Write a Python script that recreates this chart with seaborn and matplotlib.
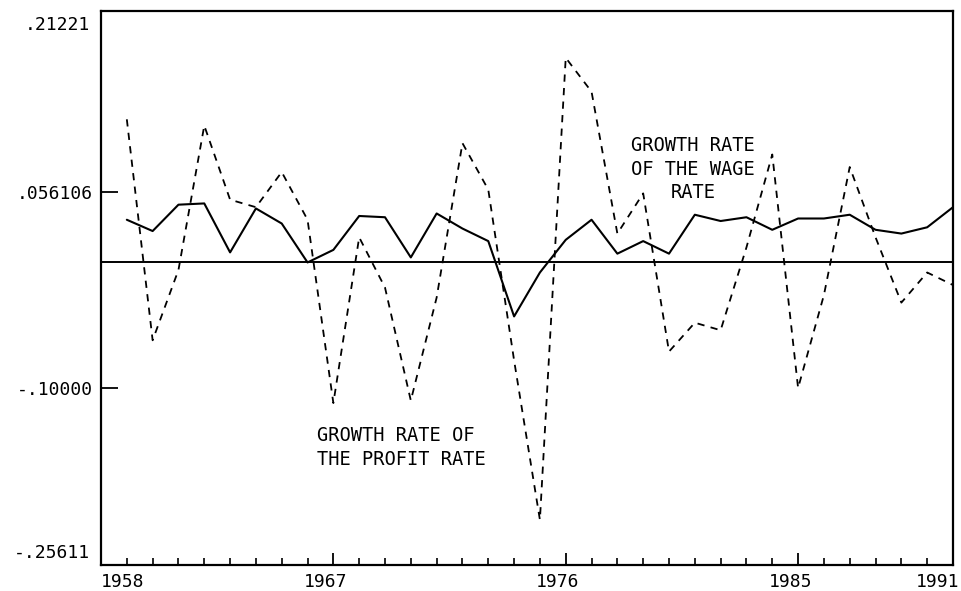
import numpy as np
import pandas as pd
import matplotlib
matplotlib.use("Agg")
import matplotlib.pyplot as plt
import matplotlib.transforms as mtransforms
import seaborn as sns

# ---- data ----
years = list(range(1959, 1992))
wage_growth = [0.034, 0.025, 0.046, 0.047, 0.008, 0.043, 0.031, 0.000, 0.010, 0.037,
               0.036, 0.004, 0.039, 0.027, 0.017, -0.043, -0.008, 0.018, 0.034, 0.007,
               0.017, 0.007, 0.038, 0.033, 0.036, 0.026, 0.035, 0.035, 0.038, 0.026,
               0.023, 0.028, 0.044]
profit_growth = [0.114, -0.062, -0.006, 0.109, 0.050, 0.044, 0.072, 0.034, -0.112, 0.020,
                 -0.020, -0.110, -0.028, 0.095, 0.058, -0.078, -0.205, 0.163, 0.136, 0.023,
                 0.055, -0.071, -0.048, -0.054, 0.012, 0.086, -0.100, -0.026, 0.076, 0.020,
                 -0.032, -0.008, -0.018]

y_range = (-0.24097, 0.20026)
y_mid_ticks = [0.056106, -0.10000]
y_mid_labels = [".056106", "-.10000"]
y_end_ticks = [0.20026, -0.24097]
y_end_labels = [".21221", "-.25611"]
x_major = [1958, 1967, 1976, 1985, 1991]
x_major_labels = ["1958", "1967", "1976", "1985", "1991"]
x_range = (1958, 1991)

df = pd.DataFrame({"year": years, "wage": wage_growth, "profit": profit_growth})

sns.set_theme(style="white")
plt.rcParams['font.family'] = ['DejaVu Sans Mono', 'DejaVu Sans']
plt.rcParams['text.color'] = 'black'
plt.rcParams['xtick.color'] = 'black'
plt.rcParams['ytick.color'] = 'black'
plt.rcParams['xtick.labelcolor'] = 'black'
plt.rcParams['ytick.labelcolor'] = 'black'

fig = plt.figure(figsize=(9.61, 5.91), dpi=100)
ax = fig.add_axes([101 / 961, 1 - 565 / 591, 852 / 961, 554 / 591])

sns.lineplot(data=df, x="year", y="wage", ax=ax, color="black", linewidth=1.5)
sns.lineplot(data=df, x="year", y="profit", ax=ax, color="black", linewidth=1.3,
             linestyle=(0, (4, 3.5)))
ax.axhline(0, color="black", linewidth=1.4)

ax.set_xlim(*x_range)
ax.set_ylim(*y_range)
ax.set_xlabel("")
ax.set_ylabel("")

for s in ax.spines.values():
    s.set_color("black")
    s.set_linewidth(1.6)

# y ticks
ax.set_yticks(y_mid_ticks, y_mid_labels)
ax.set_yticks(y_end_ticks, y_end_labels, minor=True)
ax.tick_params(axis="y", which="major", direction="in", length=12, width=1.3,
               color="black", labelcolor="black", labelsize=13, pad=6, left=True)
ax.tick_params(axis="y", which="minor", length=0, labelcolor="black", labelsize=13,
               pad=8, left=True)
mlabels = ax.yaxis.get_minorticklabels()
for lab, txt in zip(mlabels, y_end_labels):
    if txt == ".21221":
        lab.set_va("top")
        lab.set_transform(lab.get_transform() + mtransforms.ScaledTranslation(0, -5 / 100, fig.dpi_scale_trans))
    else:
        lab.set_va("bottom")
        lab.set_transform(lab.get_transform() + mtransforms.ScaledTranslation(0, 3 / 100, fig.dpi_scale_trans))

# x ticks
ax.set_xticks(x_major, x_major_labels)
ax.set_xticks(years, minor=True)
ax.tick_params(axis="x", which="major", direction="in", length=9, width=1.3,
               color="black", labelcolor="black", labelsize=13, pad=6, bottom=True)
ax.tick_params(axis="x", which="minor", direction="in", length=5, width=1.2,
               color="black", bottom=True)
xl = ax.get_xticklabels()
for i, lab in enumerate(xl):
    if i == 0:
        lab.set_ha("left")
    elif i == len(xl) - 1:
        lab.set_ha("right")
        lab.set_transform(lab.get_transform() + mtransforms.ScaledTranslation(6 / 100, 0, fig.dpi_scale_trans))
    else:
        lab.set_transform(lab.get_transform() + mtransforms.ScaledTranslation(-8 / 100, 0, fig.dpi_scale_trans))

ax.grid(False)

# annotations
ax.text(0.6948, 0.7148, "GROWTH RATE\nOF THE WAGE\nRATE", transform=ax.transAxes,
        ha="center", va="center", multialignment="center", fontsize=13.5,
        linespacing=1.3, color="black")
ax.text(0.2535, 0.2121, "GROWTH RATE OF\nTHE PROFIT RATE", transform=ax.transAxes,
        ha="left", va="center", multialignment="left", fontsize=13.5,
        linespacing=1.35, color="black")

fig.savefig("out.png", dpi=100, facecolor="white")
